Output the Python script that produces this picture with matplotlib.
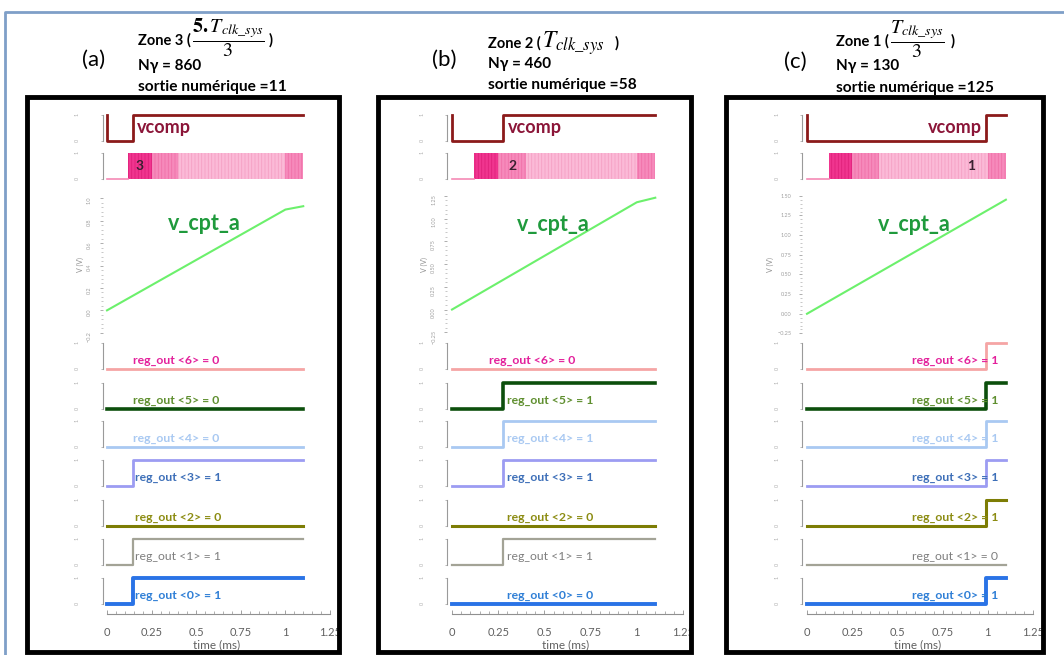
import matplotlib
matplotlib.use('Agg')
import matplotlib.pyplot as plt
from matplotlib.patches import Rectangle
from matplotlib.lines import Line2D
from matplotlib.ticker import MultipleLocator

plt.rcParams['font.family'] = ['Lato', 'DejaVu Sans']
plt.rcParams['hatch.linewidth'] = 0.6

W, H = 1064, 655

# ---------------- data ----------------
panel_tags = ['(a)', '(b)', '(c)']
n_gamma = [860, 460, 130]
sortie = [11, 58, 125]
zone_digit = ['3', '2', '1']

t_end = 1.1
step_time = [0.145, 0.275, 0.99]          # comparator / register switching time (ms)

bit_names = ['<6>', '<5>', '<4>', '<3>', '<2>', '<1>', '<0>']
bits_a = [0, 0, 0, 1, 0, 1, 1]
bits_b = [0, 1, 1, 1, 0, 1, 0]
bits_c = [1, 1, 1, 1, 1, 0, 1]
bits = [bits_a, bits_b, bits_c]

clk_start = 0.12
clk_edges = [0.12, 0.25, 0.40, 1.0, 1.1]

vcpt_t_a = [0, 1.0, 1.1]
vcpt_v_a = [0.0, 0.90, 0.93]
vcpt_t_b = [0, 1.0, 1.1]
vcpt_v_b = [0.0, 1.18, 1.23]
vcpt_t_c = [0, 1.1]
vcpt_v_c = [0.0, 1.45]
vcpt_t = [vcpt_t_a, vcpt_t_b, vcpt_t_c]
vcpt_v = [vcpt_v_a, vcpt_v_b, vcpt_v_c]
vcpt_ylim = [(-0.22, 1.03), (-0.28, 1.26), (-0.27, 1.51)]
vcpt_major = [0.2, 0.25, 0.25]

time_ticks = [0, 0.25, 0.5, 0.75, 1, 1.25]
time_labels = ['0', '0.25', '0.5', '0.75', '1', '1.25']

# ---------------- styles ----------------
reg_colors = ['#f5a5a5', '#0c4f0c', '#a9c9f2', '#9c9cf2', '#7d7d05', '#a3a396', '#2a73e6']
reg_lw = [2.0, 2.6, 2.0, 2.0, 2.2, 1.6, 2.8]
lab_colors = ['#e3209b', '#5f8f2f', '#a9c9f2', '#3d6fb8', '#8c8c12', '#7f7f7f', '#2f7fd6']
lab_weight = ['bold'] * 5 + ['normal', 'bold']
clk_colors = ['#f0358f', '#f68abb', '#fbbad7', '#f68abb']
clk_hatch = ['#e0207a', '#f070a8', '#f5a0c4', '#f070a8']

# pixel layout
x0_px = [107, 452, 807]
x125_px = [330, 683, 1033]
box_px = [(27, 97, 339, 652), (378, 97, 691, 652), (726, 97, 1043, 652)]
reg_low = [369, 409, 447, 486, 526, 565, 604]
vcomp_low, clk_low = 141, 179
lab_t = [[0.146, 0.146, 0.146, 0.157, 0.157, 0.157, 0.157],
         [0.20, 0.30, 0.30, 0.30, 0.30, 0.30, 0.30],
         [0.58] * 7]

fig = plt.figure(figsize=(W / 100, H / 100), dpi=100)


def px_ax(left, top, w, h):
    return fig.add_axes([left / W, 1 - (top + h) / H, w / W, h / H])


def px_text(x, y, s, **kw):
    return fig.text(x / W, 1 - y / H, s, **kw)


def digital_ax(i, y_low):
    s = (x125_px[i] - x0_px[i]) / 1.25
    left = x0_px[i] - 0.025 * s
    ax = px_ax(left, y_low - 29.9, 1.275 * s, 33.8)
    ax.set_xlim(-0.025, 1.25)
    ax.set_ylim(-0.15, 1.15)
    for sp in ('top', 'right', 'bottom'):
        ax.spines[sp].set_visible(False)
    ax.spines['left'].set_bounds(0, 1)
    ax.spines['left'].set_color('#9a9a9a')
    ax.spines['left'].set_linewidth(0.8)
    ax.set_xticks([])
    ax.set_yticks([0, 1])
    ax.set_yticklabels(['0', '1'])
    ax.tick_params(axis='y', length=1.5, width=0.6, colors='#b0b0b0',
                   labelsize=4, pad=15, labelrotation=90)
    ax.patch.set_alpha(0)
    return ax


for i in range(3):
    st = step_time[i]
    s = (x125_px[i] - x0_px[i]) / 1.25

    # vcomp
    ax = digital_ax(i, vcomp_low)
    ax.plot([0, 0, st, st, t_end], [1, 0, 0, 1, 1], color='#8b1a1a', lw=2)
    if i < 2:
        ax.text(st + 0.025, 0.5, 'vcomp', color='#8b1538', fontsize=13,
                fontweight='bold', va='center', ha='left')
    else:
        ax.text(st - 0.02, 0.5, 'vcomp', color='#8b1538', fontsize=13,
                fontweight='bold', va='center', ha='right')

    # clock band
    ax = digital_ax(i, clk_low)
    ax.plot([0, clk_start], [0, 0], color='#f58ab5', lw=1.2)
    for k in range(len(clk_edges) - 1):
        ax.fill_between([clk_edges[k], clk_edges[k + 1]], 0, 1,
                        facecolor=clk_colors[k], edgecolor=clk_hatch[k],
                        hatch='|||||', linewidth=0)
    dig_t = [0.185, 0.325, 0.91][i]
    ax.text(dig_t, 0.5, zone_digit[i], fontsize=10, fontweight='bold',
            color='#3a2030', va='center', ha='center')

    # v_cpt_a analog
    ax = px_ax(x0_px[i] - 0.025 * s, 195, 1.275 * s, 140)
    ax.set_xlim(-0.025, 1.25)
    ax.set_ylim(*vcpt_ylim[i])
    ax.plot(vcpt_t[i], vcpt_v[i], color='#6cf06c', lw=1.5)
    for sp in ('top', 'right', 'bottom'):
        ax.spines[sp].set_visible(False)
    ax.spines['left'].set_visible(False)
    ax.set_xticks([])
    ax.yaxis.set_major_locator(MultipleLocator(vcpt_major[i]))
    ax.yaxis.set_minor_locator(MultipleLocator(vcpt_major[i] / 5))
    ax.tick_params(axis='y', which='major', length=2, width=0.6, colors='#a0a0a0',
                   labelsize=4, pad=6, labelrotation=90 if i < 2 else 0)
    ax.tick_params(axis='y', which='minor', length=1.2, width=0.5, colors='#b0b0b0')
    ax.set_ylabel('V (V)', fontsize=5, color='#909090', labelpad=2)
    ax.patch.set_alpha(0)
    lab_x = [0.34, 0.35, 0.39][i]
    lab_y = [0.78, 0.94, 1.14][i]
    ax.text(lab_x, lab_y, 'v_cpt_a', color='#1f9a3c', fontsize=15.5,
            fontweight='bold', va='center', ha='left')

    # register bits
    for k in range(7):
        ax = digital_ax(i, reg_low[k])
        b = bits[i][k]
        ax.plot([0, st, st, t_end], [0, 0, b, b], color=reg_colors[k], lw=reg_lw[k])
        ax.text(lab_t[i][k], 0.32, 'reg_out ' + bit_names[k] + ' = ' + str(b),
                color=lab_colors[k], fontsize=8.8, fontweight=lab_weight[k],
                va='center', ha='left')

    # time axis
    ax = px_ax(x0_px[i] - 0.025 * s, 613, 1.275 * s, 1)
    ax.set_xlim(-0.025, 1.25)
    ax.spines['left'].set_visible(False)
    for sp in ('top', 'right'):
        ax.spines[sp].set_visible(False)
    ax.spines['bottom'].set_bounds(0, 1.25)
    ax.spines['bottom'].set_color('#909090')
    ax.spines['bottom'].set_linewidth(0.8)
    ax.set_yticks([])
    ax.set_xticks(time_ticks)
    ax.set_xticklabels(time_labels)
    ax.xaxis.set_minor_locator(MultipleLocator(0.05))
    ax.tick_params(axis='x', which='major', direction='in', length=3, width=0.6,
                   colors='#909090', labelcolor='#606060', labelsize=8, pad=9)
    ax.tick_params(axis='x', which='minor', direction='in', length=2, width=0.5,
                   colors='#909090')
    ax.set_xlabel('time (ms)', fontsize=8.5, color='#606060', labelpad=1)
    ax.patch.set_alpha(0)

    # black frame
    bx0, by0, bx1, by1 = box_px[i]
    fig.add_artist(Rectangle((bx0 / W, 1 - by1 / H), (bx1 - bx0) / W, (by1 - by0) / H,
                             transform=fig.transFigure, fill=False,
                             edgecolor='black', lw=3.5, zorder=10))

# ---------------- headers ----------------
hx = [138, 488, 836]
tag_xy = [(94, 60), (444, 60), (795, 62)]
for i in range(3):
    px_text(tag_xy[i][0], tag_xy[i][1], panel_tags[i], fontsize=16,
            ha='center', va='center')

px_text(hx[0], 45, 'Zone 3 (', fontsize=10.5, fontweight='bold', va='baseline')
px_text(hx[0] + 54, 46, '$\\dfrac{\\mathbf{5.}T_{clk\\_sys}}{3}$', fontsize=14.5,
        va='baseline', math_fontfamily='stix')
px_text(hx[0] + 131, 45, ')', fontsize=10.5, fontweight='bold', va='baseline')

px_text(hx[1], 48, 'Zone 2 (', fontsize=10.5, fontweight='bold', va='baseline')
px_text(hx[1] + 54, 48, '$T_{clk\\_sys}$', fontsize=17, va='baseline',
        math_fontfamily='stix')
px_text(hx[1] + 127, 48, ')', fontsize=10.5, fontweight='bold', va='baseline')

px_text(hx[2], 46, 'Zone 1 (', fontsize=10.5, fontweight='bold', va='baseline')
px_text(hx[2] + 54, 47, '$\\dfrac{T_{clk\\_sys}}{3}$', fontsize=14.5,
        va='baseline', math_fontfamily='stix')
px_text(hx[2] + 115, 46, ')', fontsize=10.5, fontweight='bold', va='baseline')

ny_y = [66, 64, 66]
so_y = [87, 85, 88]
for i in range(3):
    px_text(hx[i], ny_y[i], 'N\u03b3 = %d' % n_gamma[i], fontsize=11,
            fontweight='bold', va='center')
    px_text(hx[i], so_y[i], 'sortie num\u00e9rique =%d' % sortie[i], fontsize=11.2,
            fontweight='bold', va='center')

# outer light blue frame
fig.add_artist(Line2D([5 / W, 5 / W, 1], [0, 1 - 12 / H, 1 - 12 / H],
                      transform=fig.transFigure, color='#7f9fc8', lw=2))

fig.savefig('out.png', dpi=100)
